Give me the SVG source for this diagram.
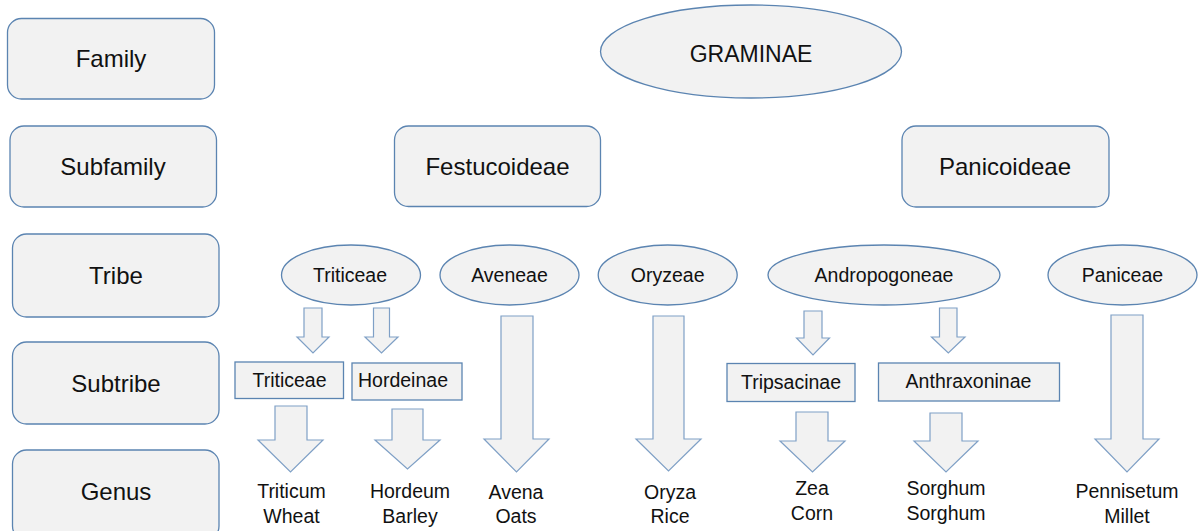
<svg xmlns="http://www.w3.org/2000/svg" width="1203" height="531" viewBox="0 0 1203 531">
  <style>
    .rank { fill: #F2F2F2; stroke: #5B84B1; stroke-width: 1.3; }
    .taxon { fill: #F2F2F2; stroke: #5B84B1; stroke-width: 1.3; }
    .arrow { fill: #F2F2F2; stroke: #7FA0C6; stroke-width: 1.2; stroke-linejoin: miter; }
    text { font-family: "Liberation Sans", Arial, sans-serif; fill: #111; text-anchor: middle; }
    .big { font-size: 24px; }
    .small { font-size: 19.5px; }
  </style>

  <!-- rank labels, left column -->
  <g id="rank-family">
    <rect class="rank" x="7.5" y="18.5" width="207" height="80.5" rx="14"/>
    <text class="big" x="111" y="67">Family</text>
  </g>
  <g id="rank-subfamily">
    <rect class="rank" x="10" y="126" width="206.5" height="81" rx="14"/>
    <text class="big" x="113" y="175">Subfamily</text>
  </g>
  <g id="rank-tribe">
    <rect class="rank" x="12.5" y="234" width="206.5" height="83" rx="14"/>
    <text class="big" x="116" y="284">Tribe</text>
  </g>
  <g id="rank-subtribe">
    <rect class="rank" x="12.5" y="342" width="206.5" height="82" rx="14"/>
    <text class="big" x="116" y="392">Subtribe</text>
  </g>
  <g id="rank-genus">
    <rect class="rank" x="12.5" y="450" width="206.5" height="90" rx="14"/>
    <text class="big" x="116" y="500">Genus</text>
  </g>

  <!-- family -->
  <g id="graminae">
    <ellipse class="taxon" cx="751" cy="51.5" rx="150.5" ry="46.5"/>
    <text class="big" x="751" y="62" style="font-size:23px">GRAMINAE</text>
  </g>

  <!-- subfamilies -->
  <g id="festucoideae">
    <rect class="taxon" x="394.5" y="126" width="206" height="80.5" rx="14"/>
    <text class="big" x="497.5" y="175">Festucoideae</text>
  </g>
  <g id="panicoideae">
    <rect class="taxon" x="902" y="126" width="207" height="81" rx="14"/>
    <text class="big" x="1005" y="175">Panicoideae</text>
  </g>

  <!-- tribes -->
  <g id="tribe-triticeae">
    <ellipse class="taxon" cx="351" cy="275" rx="69.5" ry="30"/>
    <text class="small" x="350" y="282">Triticeae</text>
  </g>
  <g id="tribe-aveneae">
    <ellipse class="taxon" cx="509.5" cy="275" rx="69.5" ry="30"/>
    <text class="small" x="509.5" y="282">Aveneae</text>
  </g>
  <g id="tribe-oryzeae">
    <ellipse class="taxon" cx="667.7" cy="275" rx="69.5" ry="30"/>
    <text class="small" x="667.7" y="282">Oryzeae</text>
  </g>
  <g id="tribe-andropogoneae">
    <ellipse class="taxon" cx="884" cy="275" rx="116" ry="30"/>
    <text class="small" x="884" y="282">Andropogoneae</text>
  </g>
  <g id="tribe-paniceae">
    <ellipse class="taxon" cx="1122.5" cy="275" rx="74.5" ry="30"/>
    <text class="small" x="1122.5" y="282">Paniceae</text>
  </g>

  <!-- subtribes -->
  <g id="subtribe-triticeae">
    <rect class="taxon" x="235" y="362" width="108.5" height="36.5"/>
    <text class="small" x="289.5" y="387">Triticeae</text>
  </g>
  <g id="subtribe-hordeinae">
    <rect class="taxon" x="352" y="363" width="110" height="37"/>
    <text class="small" x="403" y="387">Hordeinae</text>
  </g>
  <g id="subtribe-tripsacinae">
    <rect class="taxon" x="727" y="363.5" width="128" height="38"/>
    <text class="small" x="791" y="388.5">Tripsacinae</text>
  </g>
  <g id="subtribe-anthraxoninae">
    <rect class="taxon" x="878.5" y="363" width="181" height="38"/>
    <text class="small" x="968.5" y="387.5">Anthraxoninae</text>
  </g>

  <!-- genera -->
  <g id="genus-triticum">
    <text class="small" x="291.5" y="498">Triticum</text>
    <text class="small" x="291.5" y="523">Wheat</text>
  </g>
  <g id="genus-hordeum">
    <text class="small" x="410" y="498">Hordeum</text>
    <text class="small" x="410" y="523">Barley</text>
  </g>
  <g id="genus-avena">
    <text class="small" x="516" y="499">Avena</text>
    <text class="small" x="516" y="523">Oats</text>
  </g>
  <g id="genus-oryza">
    <text class="small" x="670" y="499">Oryza</text>
    <text class="small" x="670" y="523">Rice</text>
  </g>
  <g id="genus-zea">
    <text class="small" x="812" y="495">Zea</text>
    <text class="small" x="812" y="519.5">Corn</text>
  </g>
  <g id="genus-sorghum">
    <text class="small" x="946" y="495">Sorghum</text>
    <text class="small" x="946" y="519.5">Sorghum</text>
  </g>
  <g id="genus-pennisetum">
    <text class="small" x="1127" y="498">Pennisetum</text>
    <text class="small" x="1127" y="523">Millet</text>
  </g>

  <!-- block arrows between ranks -->
  <g id="connectors">
    <polygon class="arrow" points="304,308 322,308 322,337 329,337 313,353 297,337 304,337"/>
    <polygon class="arrow" points="373.5,308 389.5,308 389.5,337 398,337 381.5,353 365,337 373.5,337"/>
    <polygon class="arrow" points="275,406 307,406 307,440 323,440 290.5,472 258,440 275,440"/>
    <polygon class="arrow" points="392,409 423,409 423,440 440,440 407.5,469 375,440 392,440"/>
    <polygon class="arrow" points="501,316 533,316 533,439 549,439 516.5,472 484,439 501,439"/>
    <polygon class="arrow" points="653,316 684,316 684,439 701,439 668.5,471 636,439 653,439"/>
    <polygon class="arrow" points="804,311 822,311 822,338 829.5,338 813,355 796.5,338 804,338"/>
    <polygon class="arrow" points="939.5,308 957,308 957,337 965,337 948.3,353 931.5,337 939.5,337"/>
    <polygon class="arrow" points="796,412 828,412 828,441 845,441 812.5,472 780,441 796,441"/>
    <polygon class="arrow" points="930,413 962,413 962,441 978,441 946,472 914,441 930,441"/>
    <polygon class="arrow" points="1111,315 1143,315 1143,439 1159,439 1127,472 1095,439 1111,439"/>
  </g>
</svg>
